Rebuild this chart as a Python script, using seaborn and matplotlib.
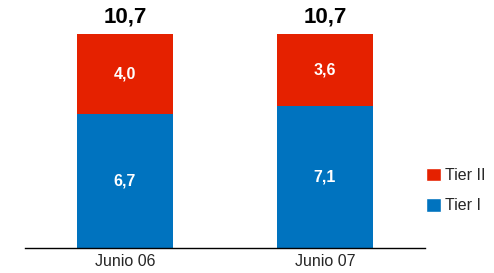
import matplotlib
matplotlib.use("Agg")
import matplotlib.pyplot as plt
import seaborn as sns
import pandas as pd
from matplotlib.patches import Patch

categories = ["Junio 06", "Junio 07"]
tier1 = [6.7, 7.1]
tier2 = [4.0, 3.6]
totals = [10.7, 10.7]
tier1_labels = ["6,7", "7,1"]
tier2_labels = ["4,0", "3,6"]
total_labels = ["10,7", "10,7"]

RED = "#e52100"
BLUE = "#0073bf"

sns.set_style("white")
plt.rcParams["font.family"] = ["Liberation Sans", "DejaVu Sans"]

fig = plt.figure(figsize=(4.94, 2.73), dpi=100)
ax = fig.add_axes([25/494, 25/273, 400/494, 248/273])

df = pd.DataFrame({"cat": categories, "t1": tier1, "t2": tier2,
                   "tot": [a + b for a, b in zip(tier1, tier2)]})
sns.barplot(data=df, x="cat", y="tot", color=RED, width=0.48, ax=ax,
            saturation=1, linewidth=0)
sns.barplot(data=df, x="cat", y="t1", color=BLUE, width=0.48, ax=ax,
            saturation=1, linewidth=0)

ax.set_xlim(-0.5, 1.5)
ax.set_ylim(0, 12.4)
for s in ["top", "right", "left"]:
    ax.spines[s].set_visible(False)
ax.spines["bottom"].set_color("black")
ax.spines["bottom"].set_linewidth(1)
ax.set_yticks([])
ax.set_xlabel("")
ax.set_ylabel("")
ax.tick_params(axis="x", length=0, labelsize=11.5, pad=4)

for i in range(len(categories)):
    ax.text(i, tier1[i] / 2, tier1_labels[i], ha="center", va="center",
            color="white", fontsize=11.5, fontweight="bold")
    ax.text(i, tier1[i] + tier2[i] / 2, tier2_labels[i], ha="center", va="center",
            color="white", fontsize=11.5, fontweight="bold")
    ax.text(i, tier1[i] + tier2[i] + 0.3, total_labels[i], ha="center", va="bottom",
            color="black", fontsize=16, fontweight="bold")

handles = [Patch(facecolor=RED, label="Tier II"), Patch(facecolor=BLUE, label="Tier I")]
fig.legend(handles=handles, loc="center left", bbox_to_anchor=(412/494, 1 - 190.5/273),
           frameon=False, fontsize=11.5, handlelength=0.94, handleheight=0.94,
           labelspacing=0.95, handletextpad=0.2)

fig.savefig("out.png", dpi=100)
